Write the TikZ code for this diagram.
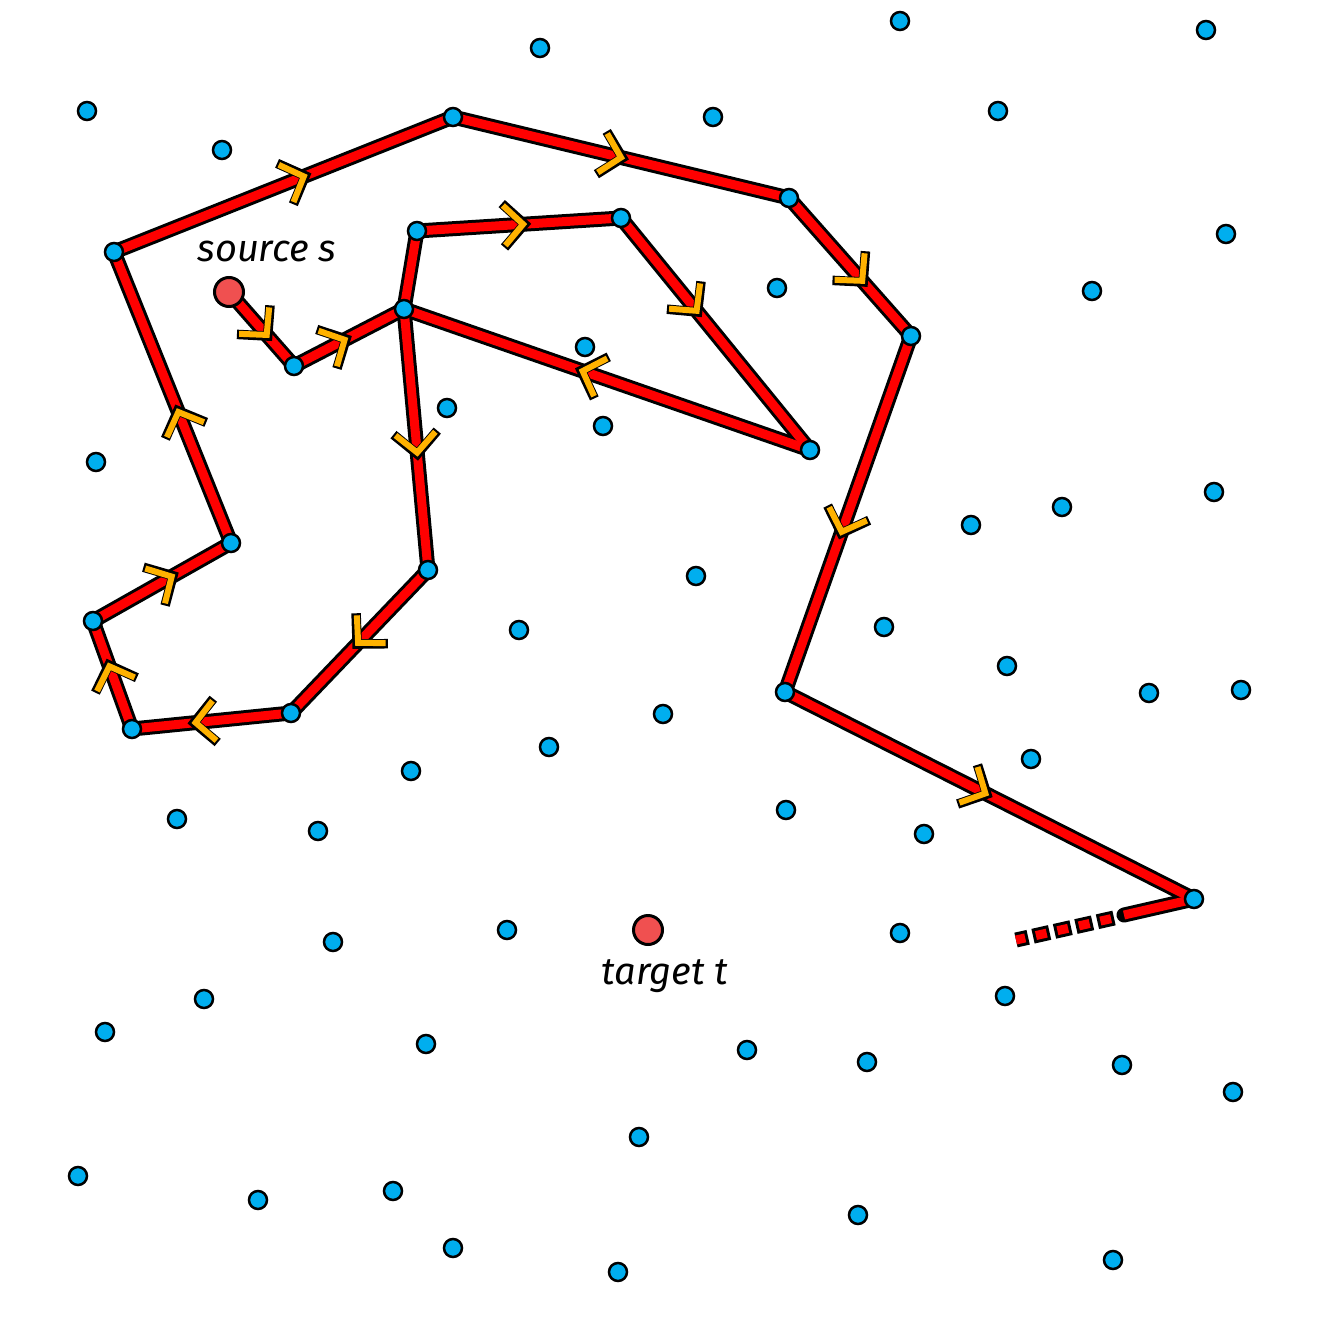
\documentclass[tikz,border=0pt]{standalone}
\usepackage{fontspec}
\setmainfont{Fira Sans}
\usepackage{tikz}
\usetikzlibrary{decorations.markings, backgrounds}
\definecolor{blueDot}{RGB}{0,174,239}
\definecolor{redPath}{RGB}{255,0,0}
\definecolor{redEnd}{RGB}{240,80,80}
\definecolor{orangeArrow}{RGB}{255,178,0}

% segments of the route, in order
\newcommand{\route}{s/p1, p1/p2, p2/p3, p3/p4, p4/p5, p5/p2, p2/p6, p6/p7, p7/p8, p8/p9, p9/p10, p10/p11, p11/p12, p12/p13, p13/p14, p14/p15, p15/p16}
% segments with an arrow, and where the arrow sits
\newcommand{\routearrows}{s/p1/0.58, p1/p2/0.46, p3/p4/0.52, p4/p5/0.4, p5/p2/0.56, p2/p6/0.55, p6/p7/0.51, p7/p8/0.6, p8/p9/0.58, p9/p10/0.57, p10/p11/0.45, p11/p12/0.56, p12/p13/0.5, p13/p14/0.6, p14/p15/0.55, p15/p16/0.49}

\begin{document}
\begin{tikzpicture}[
    x=1pt, y=-1pt,
    every node/.style={font=\itshape\fontsize{38}{42}\selectfont},
    dot/.style={circle, draw=black, line width=2.5pt, fill=blueDot, inner sep=0pt, minimum size=18pt},
    endpoint/.style={circle, draw=black, line width=3pt, fill=redEnd, inner sep=0pt, minimum size=29pt},
    pathout/.style={draw=black, line width=15pt, line cap=round, line join=round},
    pathin/.style={draw=redPath, line width=9pt, line cap=round, line join=round},
    chevron/.style={decoration={markings, mark=at position #1 with {
        \draw[black, line width=9.5pt, line join=miter] (-20pt,22pt) -- (1.5pt,0pt) -- (-20pt,-22pt);
        \draw[orangeArrow, line width=6pt, line join=miter] (-19pt,20pt) -- (0pt,0pt) -- (-19pt,-20pt);}},
        postaction={decorate}}
]

    % Margens
    \useasboundingbox (0,0) rectangle (1328,1328);

    % Pontos livres
    \foreach \px/\py [count=\i] in {540/48, 900/21, 1206/30, 87/111, 713/117, 998/111, 222/150, 1226/234,
        777/288, 1092/291, 585/347, 447/408, 603/426, 96/462, 971/525, 1062/507, 1214/492, 696/576,
        519/630, 884/627, 1007/666, 1149/693, 1241/690, 663/714, 549/747, 411/771, 1031/759, 177/819,
        318/831, 786/810, 924/834, 333/942, 507/930, 900/933, 204/999, 105/1032, 426/1044, 1005/996,
        747/1050, 867/1062, 1122/1065, 1233/1092, 639/1137, 78/1176, 258/1200, 393/1191, 858/1215,
        453/1248, 618/1272, 1113/1260}
        \node[dot] (d\i) at (\px,\py) {};

    % Pontos do caminho
    \node[dot] (p1) at (294,366) {};
    \node[dot] (p2) at (404,309) {};
    \node[dot] (p3) at (417,231) {};
    \node[dot] (p4) at (621,218) {};
    \node[dot] (p5) at (810,450) {};
    \node[dot] (p6) at (428,570) {};
    \node[dot] (p7) at (291,713) {};
    \node[dot] (p8) at (132,729) {};
    \node[dot] (p9) at (93,621) {};
    \node[dot] (p10) at (231,543) {};
    \node[dot] (p11) at (114,252) {};
    \node[dot] (p12) at (453,117) {};
    \node[dot] (p13) at (789,198) {};
    \node[dot] (p14) at (911,336) {};
    \node[dot] (p15) at (785,692) {};
    \node[dot] (p16) at (1194,899) {};

    % Origem e destino
    \node[endpoint] (s) at (229,292) {};
    \node (slabel) at (267,251) {source s};
    \node[endpoint] (t) at (648,930) {};
    \node (tlabel) at (665,976) {target t};

    % Caminho
    \coordinate (gapa) at (1124,915);
    \coordinate (gapb) at (1114,918);
    \coordinate (tail) at (1016,940);
    \begin{scope}[on background layer]
        \foreach \a/\b in \route
            \draw[pathout] (\a.center) -- (\b.center);
        \draw[pathout] (p16.center) -- (gapa);
        \draw[black, line width=15pt, dash pattern=on 17pt off 5pt] (gapb) -- (tail);
        \foreach \a/\b in \route
            \draw[pathin] (\a.center) -- (\b.center);
        \draw[pathin, line cap=butt] (p16.center) -- (gapa);
        \draw[redPath, line width=9pt, dash pattern=on 11pt off 11pt, dash phase=19pt] (gapb) -- (tail);
        \foreach \a/\b/\f in \routearrows
            \path[chevron=\f] (\a.center) -- (\b.center);
    \end{scope}

\end{tikzpicture}
\end{document}
